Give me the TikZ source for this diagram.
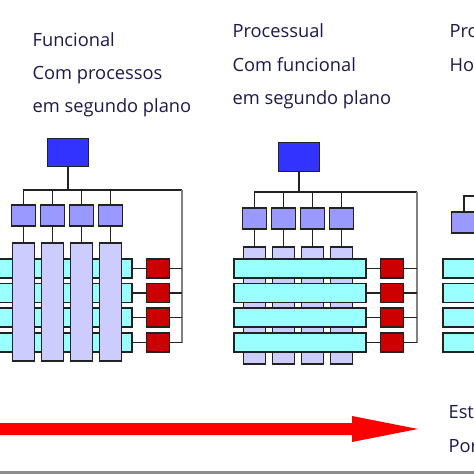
\documentclass[tikz,border=0pt]{standalone}
\usepackage{fontspec}
\setmainfont{Open Sans}

\definecolor{chiefblue}{HTML}{3333FF}
\definecolor{unitblue}{HTML}{9999FF}
\definecolor{columnblue}{HTML}{CCCCFF}
\definecolor{rowcyan}{HTML}{99FFFF}
\definecolor{supportred}{HTML}{CC0000}
\definecolor{arrowred}{HTML}{FF0000}
\definecolor{captionblue}{HTML}{1A1A4D}
\definecolor{boxline}{HTML}{222222}
\definecolor{busgray}{HTML}{808080}

\begin{document}
\begin{tikzpicture}[x=0.02cm, y=-0.02cm, every node/.style={rectangle, draw=boxline, line width=0.7pt, inner sep=0pt}, line width=0.7pt, draw=boxline]
		\tikzstyle{chief} = [fill=chiefblue, minimum width=0.82cm, minimum height=0.57cm]
		\tikzstyle{unit} = [fill=unitblue, minimum width=0.49cm, minimum height=0.42cm]
		\tikzstyle{column} = [fill=columnblue, minimum width=0.45cm]
		\tikzstyle{row} = [fill=rowcyan, minimum height=0.38cm]
		\tikzstyle{support} = [fill=supportred, minimum width=0.46cm, minimum height=0.38cm]
		\tikzstyle{caption} = [draw=none, anchor=base west, text=captionblue, font=\fontsize{10.4}{13}\selectfont]
		\tikzstyle{bus} = [draw=busgray, line width=0.6pt]
		
		\useasboundingbox (0,0) rectangle (474,474);
		\clip (0,0) rectangle (474,474);
		
		% Funcional
		\node[caption] (t11) at (32,46) {Funcional};
		\node[caption] (t12) at (32,79) {Com processos};
		\node[caption] (t13) at (32,112) {em segundo plano};
		
		\node[chief] (top1) at (68,152.5) {};
		\node[unit] (u11) at (23.5,215.5) {};
		\node[unit] (u12) at (52.5,215.5) {};
		\node[unit] (u13) at (81.5,215.5) {};
		\node[unit] (u14) at (110.5,215.5) {};
		\node[row, minimum width=2.74cm] (r11) at (63.5,268.5) {};
		\node[row, minimum width=2.74cm] (r12) at (63.5,293) {};
		\node[row, minimum width=2.74cm] (r13) at (63.5,317.5) {};
		\node[row, minimum width=2.74cm] (r14) at (63.5,342.5) {};
		\node[column, minimum height=2.36cm] (c11) at (23.5,302) {};
		\node[column, minimum height=2.36cm] (c12) at (52.5,302) {};
		\node[column, minimum height=2.36cm] (c13) at (81.5,302) {};
		\node[column, minimum height=2.36cm] (c14) at (110.5,302) {};
		\node[support] (e11) at (158,268.5) {};
		\node[support] (e12) at (158,293) {};
		\node[support] (e13) at (158,317.5) {};
		\node[support] (e14) at (158,342.5) {};
		\coordinate (bus1) at (182,190);
		\coordinate (end1) at (182,343);
		
		\draw (top1.south) -- (top1.south |- bus1);
		\draw (u11.north) |- (bus1);
		\draw (u12.north) -- (u12.north |- bus1);
		\draw (u13.north) -- (u13.north |- bus1);
		\draw (u14.north) -- (u14.north |- bus1);
		\draw[bus] (bus1) -- (end1);
		\draw (u11.south) -- (c11.north);
		\draw (u12.south) -- (c12.north);
		\draw (u13.south) -- (c13.north);
		\draw (u14.south) -- (c14.north);
		\draw (r11.east) -- (e11.west);
		\draw (r12.east) -- (e12.west);
		\draw (r13.east) -- (e13.west);
		\draw (r14.east) -- (e14.west);
		\draw (e11.east) -- (e11.east -| bus1);
		\draw (e12.east) -- (e12.east -| bus1);
		\draw (e13.east) -- (e13.east -| bus1);
		\draw (e14.east) -- (e14.east -| bus1);
		
		% Processual
		\node[caption] (t21) at (232,37) {Processual};
		\node[caption] (t22) at (232,71) {Com funcional};
		\node[caption] (t23) at (232,104) {em segundo plano};
		
		\node[chief] (top2) at (299,157) {};
		\node[unit] (u21) at (254.5,218.5) {};
		\node[unit] (u22) at (283.5,218.5) {};
		\node[unit] (u23) at (312.5,218.5) {};
		\node[unit] (u24) at (341.5,218.5) {};
		\node[column, minimum height=2.34cm] (c21) at (254.5,305.5) {};
		\node[column, minimum height=2.34cm] (c22) at (283.5,305.5) {};
		\node[column, minimum height=2.34cm] (c23) at (312.5,305.5) {};
		\node[column, minimum height=2.34cm] (c24) at (341.5,305.5) {};
		\node[row, minimum width=2.64cm] (r21) at (300,268.5) {};
		\node[row, minimum width=2.64cm] (r22) at (300,293) {};
		\node[row, minimum width=2.64cm] (r23) at (300,317.5) {};
		\node[row, minimum width=2.64cm] (r24) at (300,342.5) {};
		\node[support] (e21) at (392,268.5) {};
		\node[support] (e22) at (392,293) {};
		\node[support] (e23) at (392,317.5) {};
		\node[support] (e24) at (392,342.5) {};
		\coordinate (bus2) at (417,192);
		\coordinate (end2) at (417,343);
		
		\draw (top2.south) -- (top2.south |- bus2);
		\draw (u21.north) |- (bus2);
		\draw (u22.north) -- (u22.north |- bus2);
		\draw (u23.north) -- (u23.north |- bus2);
		\draw (u24.north) -- (u24.north |- bus2);
		\draw[bus] (bus2) -- (end2);
		\draw (u21.south) -- (c21.north);
		\draw (u22.south) -- (c22.north);
		\draw (u23.south) -- (c23.north);
		\draw (u24.south) -- (c24.north);
		\draw (r21.east) -- (e21.west);
		\draw (r22.east) -- (e22.west);
		\draw (r23.east) -- (e23.west);
		\draw (r24.east) -- (e24.west);
		\draw (e21.east) -- (e21.east -| bus2);
		\draw (e22.east) -- (e22.east -| bus2);
		\draw (e23.east) -- (e23.east -| bus2);
		\draw (e24.east) -- (e24.east -| bus2);
		
		% third panel, cut off at the edge
		\node[caption] (t31) at (449,37) {Pro};
		\node[caption] (t32) at (449,71) {Ho};
		
		\node[unit] (u31) at (464,222.5) {};
		\node[row, minimum width=2.64cm] (r31) at (509,268.5) {};
		\node[row, minimum width=2.64cm] (r32) at (509,293) {};
		\node[row, minimum width=2.64cm] (r33) at (509,317.5) {};
		\node[row, minimum width=2.64cm] (r34) at (509,342.5) {};
		\coordinate (bus3) at (490,196);
		\draw (u31.north) |- (bus3);
		
		% evolution arrow
		\fill[arrowred] (-5,423) -- (352,423) -- (352,416) -- (418,429) -- (352,442) -- (352,435) -- (-5,435) -- cycle;
		\node[caption] (t41) at (448,418) {Est};
		\node[caption] (t42) at (448,452) {Por};
		
		\fill[busgray!90] (0,471) rectangle (474,476);
	\end{tikzpicture}
\end{document}
